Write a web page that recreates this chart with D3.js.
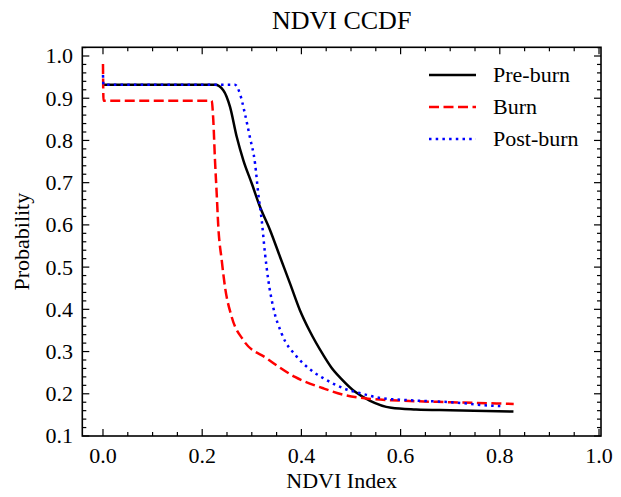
<!DOCTYPE html>
<html><head><meta charset="utf-8">
<script src="https://cdn.jsdelivr.net/npm/d3@7"></script>
<style>body{margin:0;background:#fff}svg{display:block}text{font-family:"Liberation Serif","Times New Roman",serif;fill:#000}</style>
</head><body>
<script>
const title = "NDVI CCDF";
const xLabel = "NDVI Index";
const yLabel = "Probability";
const seriesNames = ["Pre-burn", "Burn", "Post-burn"];
const xTicks = [0.0, 0.2, 0.4, 0.6, 0.8, 1.0];
const yTicks = [0.1, 0.2, 0.3, 0.4, 0.5, 0.6, 0.7, 0.8, 0.9, 1.0];

const preX = [0, 0.226, 0.2425, 0.256, 0.2696, 0.283, 0.300, 0.3165, 0.3367, 0.357, 0.377, 0.397, 0.417, 0.444, 0.46, 0.48, 0.509, 0.5376, 0.581, 0.631, 0.70, 0.8275];
const preY = [0.932, 0.932, 0.919, 0.880, 0.8086, 0.753, 0.698, 0.643, 0.588, 0.524, 0.4615, 0.398, 0.348, 0.292, 0.263, 0.236, 0.204, 0.184, 0.167, 0.163, 0.161, 0.158];

const burnX = [0, 0.001, 0.219, 0.2224, 0.2258, 0.2292, 0.2325, 0.2393, 0.246, 0.2595, 0.283, 0.330, 0.387, 0.444, 0.487, 0.530, 0.595, 0.702, 0.828];
const burnY = [0.981, 0.894, 0.894, 0.848, 0.753, 0.675, 0.5955, 0.517, 0.453, 0.382, 0.327, 0.284, 0.240, 0.213, 0.197, 0.189, 0.184, 0.180, 0.176];

const postX = [0, 0.001, 0.266, 0.276, 0.286, 0.296, 0.3065, 0.313, 0.320, 0.3266, 0.3333, 0.343, 0.360, 0.3905, 0.415, 0.444, 0.487, 0.523, 0.559, 0.631, 0.702, 0.781, 0.804];
const postY = [0.955, 0.932, 0.932, 0.911, 0.864, 0.8086, 0.746, 0.6746, 0.611, 0.5325, 0.469, 0.406, 0.343, 0.288, 0.260, 0.237, 0.212, 0.200, 0.190, 0.184, 0.180, 0.172, 0.171];

const W = 621, H = 497;
const L = 82.3, R = 601, T = 47.3, B = 436;
const x = d3.scaleLinear().domain([-0.0417, 1.004]).range([L, R]);
const y = d3.scaleLinear().domain([0.1, 1.0206]).range([B, T]);

const svg = d3.select("body").append("svg").attr("width", W).attr("height", H);

const series = [
  {name: seriesNames[0], xs: preX, ys: preY, color: "#000000", dash: null},
  {name: seriesNames[1], xs: burnX, ys: burnY, color: "#ff0000", dash: "10,4.5"},
  {name: seriesNames[2], xs: postX, ys: postY, color: "#0000ff", dash: "2.5,4.2"}
];

const line = d3.line().x(d => x(d[0])).y(d => y(d[1])).curve(d3.curveMonotoneX);
const g = svg.append("g");
series.forEach(s => {
  const pts = s.xs.map((v, i) => [v, s.ys[i]]);
  g.append("path").attr("d", line(pts)).attr("fill", "none")
    .attr("stroke", s.color).attr("stroke-width", 2.5)
    .attr("stroke-dasharray", s.dash);
});

// ticks (inward, all four sides)
const xMinor = d3.range(0, 1.0001, 0.05).filter(v => !xTicks.some(t => Math.abs(t - v) < 1e-6));
const yMinor = d3.range(0.1, 1.0201, 0.02).filter(v => !yTicks.some(t => Math.abs(t - v) < 1e-6));
const tk = svg.append("g").attr("stroke", "#000").attr("stroke-width", 1.2);
xTicks.forEach(v => {
  tk.append("line").attr("x1", x(v)).attr("x2", x(v)).attr("y1", B).attr("y2", B - 7);
  tk.append("line").attr("x1", x(v)).attr("x2", x(v)).attr("y1", T).attr("y2", T + 7);
});
xMinor.forEach(v => {
  tk.append("line").attr("x1", x(v)).attr("x2", x(v)).attr("y1", B).attr("y2", B - 4);
  tk.append("line").attr("x1", x(v)).attr("x2", x(v)).attr("y1", T).attr("y2", T + 4);
});
yTicks.forEach(v => {
  tk.append("line").attr("y1", y(v)).attr("y2", y(v)).attr("x1", L).attr("x2", L + 7);
  tk.append("line").attr("y1", y(v)).attr("y2", y(v)).attr("x1", R).attr("x2", R - 7);
});
yMinor.forEach(v => {
  tk.append("line").attr("y1", y(v)).attr("y2", y(v)).attr("x1", L).attr("x2", L + 4);
  tk.append("line").attr("y1", y(v)).attr("y2", y(v)).attr("x1", R).attr("x2", R - 4);
});

svg.append("rect").attr("x", L).attr("y", T).attr("width", R - L).attr("height", B - T)
  .attr("fill", "none").attr("stroke", "#000").attr("stroke-width", 1.6);

// tick labels
xTicks.forEach(v => {
  svg.append("text").attr("x", x(v)).attr("y", 463).attr("text-anchor", "middle")
    .attr("font-size", 22).text(v.toFixed(1));
});
yTicks.forEach(v => {
  svg.append("text").attr("x", 73).attr("y", y(v)).attr("dy", "0.34em").attr("text-anchor", "end")
    .attr("font-size", 22).text(v.toFixed(1));
});

// titles
svg.append("text").attr("x", (L + R) / 2).attr("y", 29).attr("text-anchor", "middle")
  .attr("font-size", 26).text(title);
svg.append("text").attr("x", (L + R) / 2).attr("y", 488).attr("text-anchor", "middle")
  .attr("font-size", 22).text(xLabel);
svg.append("text").attr("transform", `translate(29,${(T + B) / 2}) rotate(-90)`)
  .attr("text-anchor", "middle").attr("font-size", 22).text(yLabel);

// legend
series.forEach((s, i) => {
  const ly = 75 + i * 32;
  svg.append("line").attr("x1", 429).attr("x2", 476).attr("y1", ly).attr("y2", ly)
    .attr("stroke", s.color).attr("stroke-width", 2.5).attr("stroke-dasharray", s.dash);
  svg.append("text").attr("x", 493).attr("y", ly).attr("dy", "0.34em")
    .attr("font-size", 22).text(s.name);
});
</script>
</body></html>
